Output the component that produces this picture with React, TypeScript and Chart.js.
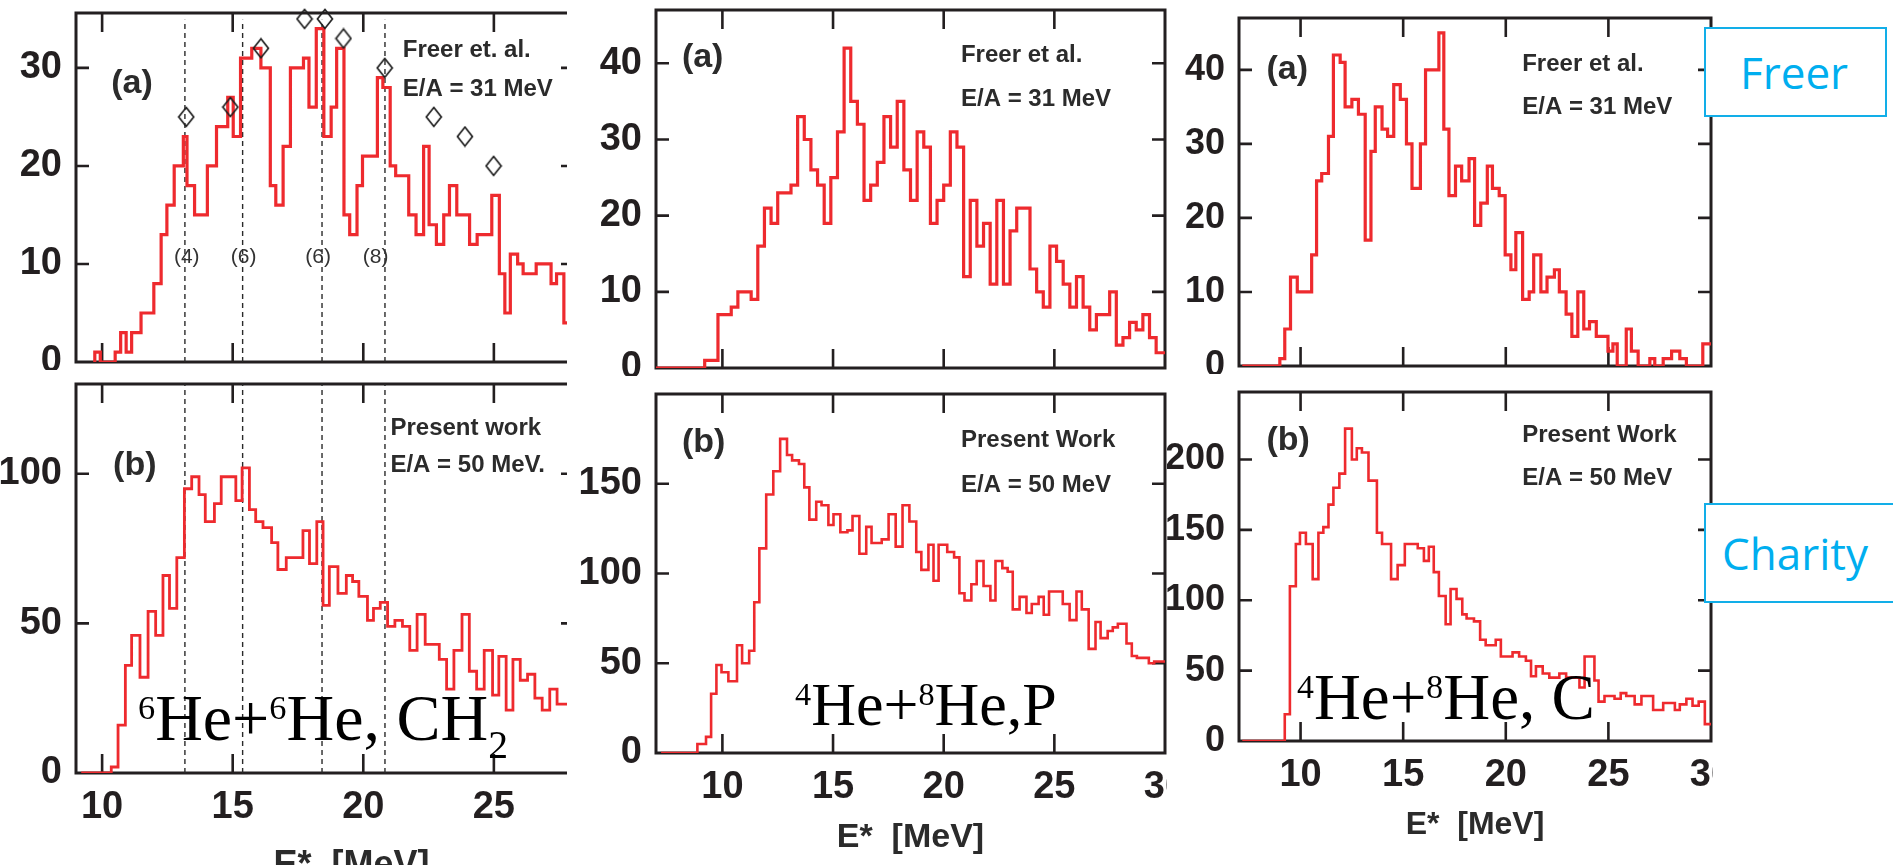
import React, { useEffect, useRef } from 'react';
import { Chart, registerables } from 'chart.js';

Chart.register(...registerables);

const RED = '#ee2a2e';
const INK = '#231f20';
const SANS = '"Liberation Sans", Arial, Helvetica, sans-serif';
const SERIF = '"Liberation Serif", "Times New Roman", serif';

// ---------- 6He+6He, CH2 : Freer et al. (E/A = 31 MeV) ----------
const LT_EDGES = [9.72, 9.93, 10.5, 10.71, 10.92, 11.13, 11.49, 11.98, 12.26, 12.48, 12.76, 13.11, 13.25, 13.54, 14.03, 14.38, 14.81, 15.02, 15.3, 15.73, 16.08, 16.44, 16.65, 16.93, 17.21, 17.71, 17.92, 18.2, 18.49, 18.77, 18.98, 19.26, 19.48, 19.76, 19.97, 20.54, 20.75, 21.03, 21.24, 21.74, 22.02, 22.31, 22.52, 22.8, 23.08, 23.3, 23.58, 24.07, 24.36, 24.92, 25.21, 25.42, 25.63, 25.91, 26.12, 26.62, 27.19, 27.4, 27.68, 27.9];
const LT_COUNTS = [1, 0, 1, 3, 1, 3, 5, 8, 13, 16, 20, 23, 18, 15, 20, 24, 27, 23, 31, 32, 30, 18, 16, 22, 30, 31, 26, 34, 23, 26, 32, 15, 13, 18, 21, 29, 28, 20, 19, 15, 13, 22, 14, 12, 15, 18, 15, 12, 13, 17, 9, 5, 11, 10, 9, 10, 8, 9, 4];
const LT_DIAMOND_E = [13.22, 14.91, 16.08, 17.75, 18.53, 19.24, 20.82, 22.7, 23.89, 24.99];
const LT_DIAMOND_N = [25, 26, 32, 35, 35, 33, 30, 25, 23, 20];
const LEVEL_LINES = [13.17, 15.38, 18.42, 20.83];
const LEVEL_TAGS = ['(4)', '(6)', '(6)', '(8)'];
const LEVEL_TAG_E = [13.24, 15.42, 18.27, 20.47];

// ---------- 6He+6He, CH2 : present work (E/A = 50 MeV) ----------
const LB_EDGES = [9.2, 10.35, 10.61, 10.89, 11.13, 11.45, 11.76, 12.05, 12.33, 12.58, 12.86, 13.15, 13.43, 13.71, 13.95, 14.3, 14.56, 15.12, 15.36, 15.64, 15.88, 16.16, 16.49, 16.73, 17.05, 17.69, 17.94, 18.22, 18.46, 18.7, 19.03, 19.35, 19.59, 19.83, 20.16, 20.39, 20.65, 20.93, 21.21, 21.5, 21.78, 22.06, 22.37, 22.91, 23.19, 23.47, 23.78, 24.06, 24.34, 24.63, 24.95, 25.19, 25.47, 25.73, 26.01, 26.29, 26.57, 26.85, 27.14, 27.42, 27.9];
const LB_COUNTS = [0, 2, 16, 36, 46, 32, 54, 46, 66, 55, 72, 95, 99, 93, 84, 90, 99, 91, 102, 88, 84, 82, 77, 68, 72, 81, 70, 84, 56, 69, 60, 66, 64, 59, 51, 55, 57, 49, 51, 49, 41, 53, 43, 38, 28, 41, 53, 34, 28, 41, 26, 39, 21, 38, 31, 33, 25, 21, 28, 23];

// ---------- 4He+8He, P : Freer et al. (uniform 0.3 MeV bins) ----------
const MT_ZERO_FROM = 7;
const MT_FIRST_EDGE = 9.2;
const MT_BIN_WIDTH = 0.3;
const MT_COUNTS = [1, 1, 7, 7, 8, 10, 10, 9, 16, 21, 19, 23, 23, 24, 33, 30, 26, 24, 19, 25, 31, 42, 35, 32, 22, 24, 27, 33, 29, 35, 26, 22, 31, 29, 19, 22, 24, 31, 29, 12, 22, 16, 19, 11, 22, 11, 18, 21, 21, 13, 10, 8, 16, 14, 11, 8, 12, 8, 5, 7, 7, 10, 3, 4, 6, 5, 7, 4, 2, 2];

// ---------- 4He+8He, P : present work ----------
const MB_EDGES = [7.23, 8.87, 9.26, 9.49, 9.73, 9.96, 10.27, 10.66, 10.89, 11.21, 11.44, 11.67, 11.98, 12.3, 12.61, 12.92, 13.15, 13.46, 13.7, 13.93, 14.24, 14.48, 14.79, 15.02, 15.33, 15.65, 15.88, 16.19, 16.5, 16.74, 17.2, 17.51, 17.83, 18.14, 18.45, 18.76, 18.99, 19.31, 19.54, 19.77, 20.16, 20.47, 20.71, 20.94, 21.25, 21.49, 21.8, 22.11, 22.34, 22.65, 22.89, 23.12, 23.43, 23.74, 23.98, 24.29, 24.52, 24.76, 25.38, 25.69, 26.0, 26.24, 26.55, 26.86, 27.09, 27.41, 27.64, 27.87, 28.26, 28.5, 28.73, 29.27, 29.51, 30.0];
const MB_COUNTS = [0, 5, 9, 33, 49, 45, 40, 60, 50, 57, 84, 114, 144, 157, 175, 166, 163, 161, 148, 130, 140, 138, 127, 133, 123, 124, 132, 111, 126, 117, 119, 133, 115, 138, 129, 112, 102, 116, 96, 116, 112, 109, 89, 85, 94, 107, 93, 85, 107, 103, 101, 80, 87, 78, 83, 87, 77, 90, 83, 74, 90, 80, 58, 73, 64, 68, 70, 72, 61, 54, 53, 50, 51];

// ---------- 4He+8He, C : Freer et al. ----------
const RT_EDGES = [7.16, 8.99, 9.23, 9.51, 9.84, 10.54, 10.78, 11.03, 11.36, 11.6, 11.93, 12.17, 12.5, 12.82, 13.15, 13.43, 13.64, 13.97, 14.24, 14.54, 14.86, 15.16, 15.43, 15.84, 16.09, 16.74, 16.98, 17.23, 17.55, 17.85, 18.21, 18.48, 18.78, 19.1, 19.35, 19.68, 19.97, 20.25, 20.49, 20.82, 21.14, 21.36, 21.71, 22.01, 22.37, 22.61, 22.94, 23.22, 23.51, 23.8, 24.08, 24.41, 24.98, 25.22, 25.43, 25.87, 26.12, 26.45, 27.02, 27.26, 27.67, 28.08, 28.48, 28.8, 29.6, 30.0];
const RT_COUNTS = [0, 1, 5, 12, 10, 15, 25, 26, 31, 42, 41, 35, 36, 34, 17, 29, 35, 32, 31, 38, 36, 30, 24, 30, 40, 45, 32, 23, 27, 25, 28, 19, 22, 27, 24, 23, 15, 13, 18, 9, 10, 15, 10, 12, 13, 10, 7, 4, 10, 5, 6, 4, 2, 3, 0, 5, 2, 0, 1, 0, 1, 2, 1, 0, 3];

// ---------- 4He+8He, C : present work ----------
const RB_EDGES = [7.16, 9.23, 9.48, 9.77, 9.97, 10.26, 10.59, 10.87, 11.11, 11.36, 11.6, 11.89, 12.17, 12.5, 12.74, 12.99, 13.31, 13.72, 13.97, 14.41, 14.73, 15.08, 15.71, 16.01, 16.25, 16.49, 16.74, 17.07, 17.31, 17.6, 17.88, 18.09, 18.45, 18.75, 19.02, 19.51, 19.76, 20.33, 20.65, 20.98, 21.23, 21.47, 21.8, 22.12, 22.61, 22.94, 23.59, 23.84, 24.32, 24.52, 24.81, 25.3, 25.6, 25.87, 26.28, 26.61, 27.18, 27.67, 28.24, 28.48, 28.8, 29.1, 29.4, 29.7, 30.0];
const RB_COUNTS = [0, 19, 110, 140, 148, 140, 115, 148, 152, 168, 180, 190, 222, 200, 208, 205, 185, 148, 140, 115, 125, 140, 137, 128, 138, 120, 103, 83, 108, 101, 90, 87, 85, 72, 68, 72, 60, 63, 60, 57, 46, 53, 48, 45, 48, 45, 38, 60, 43, 28, 32, 30, 34, 32, 26, 32, 22, 27, 22, 26, 30, 25, 28, 12];

// ---------- axis ticks ----------
const LEFT_X_TICKS = [10, 15, 20, 25];
const WIDE_X_TICKS = [10, 15, 20, 25, 30];
const LT_Y_TICKS = [0, 10, 20, 30];
const LB_Y_TICKS = [0, 50, 100];
const TOP_Y_TICKS = [0, 10, 20, 30, 40];
const MB_Y_TICKS = [0, 50, 100, 150];
const RB_Y_TICKS = [0, 50, 100, 150, 200];

const MT_EDGES = [MT_ZERO_FROM, ...MT_COUNTS.map((_, i) => +(MT_FIRST_EDGE + i * MT_BIN_WIDTH).toFixed(2)), 30];
const MT_ALL_COUNTS = [0, ...MT_COUNTS];

type Note = { text: string; x: number; y: number; size: number; bold?: boolean; align?: CanvasTextAlign };

type PanelSpec = {
  left: number; top: number; width: number; height: number;
  padTop: number; padRight: number; yAxisWidth: number; xAxisHeight: number;
  xMin: number; xMax: number; yMin: number; yMax: number;
  xTicks: number[]; xLabels: boolean; yTicks: number[]; yFont: number;
  edges: number[]; counts: number[]; lineWidth: number;
  rightBorder: boolean;
  title?: { text: string; size: number; padBottom: number };
  notes: Note[];
  dashed?: { xs: number[]; top: number };
  diamonds?: { x: number[]; y: number[] };
};

// One point per bin (its lower edge and count) plus the closing edge; drawn with step-before
// interpolation so each count holds from its own edge to the next one.
function histogramPoints(edges: number[], counts: number[]) {
  const pts = [{ x: edges[0], y: 0 }];
  counts.forEach((c, i) => pts.push({ x: edges[i], y: c }));
  pts.push({ x: edges[edges.length - 1], y: counts[counts.length - 1] });
  return pts;
}

function diamondMarker(): HTMLCanvasElement {
  const c = document.createElement('canvas');
  c.width = 18;
  c.height = 22;
  const g = c.getContext('2d')!;
  g.strokeStyle = '#1e1e1e';
  g.lineWidth = 1.7;
  g.beginPath();
  g.moveTo(9, 1.5);
  g.lineTo(16.5, 11);
  g.lineTo(9, 20.5);
  g.lineTo(1.5, 11);
  g.closePath();
  g.stroke();
  return c;
}

function buildConfig(spec: PanelSpec): any {
  const datasets: any[] = [
    {
      label: 'counts',
      data: histogramPoints(spec.edges, spec.counts),
      stepped: 'before',
      borderColor: RED,
      borderWidth: spec.lineWidth,
      pointRadius: 0,
      fill: false,
      order: 2,
    },
  ];
  if (spec.dashed) {
    const d = spec.dashed;
    d.xs.forEach((x) =>
      datasets.push({
        label: 'level',
        data: [{ x, y: 0 }, { x, y: d.top }],
        borderColor: '#2a2a2a',
        borderWidth: 1.4,
        borderDash: [5, 4],
        pointRadius: 0,
        fill: false,
        order: 3,
      })
    );
  }
  if (spec.diamonds) {
    const dm = spec.diamonds;
    datasets.push({
      label: 'freer',
      data: dm.x.map((x, i) => ({ x, y: dm.y[i] })),
      showLine: false,
      pointStyle: diamondMarker(),
      pointRadius: 10,
      clip: false,
      order: 1,
    });
  }

  const frame = {
    id: 'frame',
    beforeDatasetsDraw(chart: any) {
      const { ctx, chartArea: a } = chart;
      const xs = chart.scales.x;
      const ys = chart.scales.y;
      const rEdge = spec.rightBorder ? a.right : a.right + 7;
      ctx.save();
      ctx.strokeStyle = INK;
      ctx.lineWidth = 3;
      ctx.lineCap = 'square';
      ctx.beginPath();
      ctx.moveTo(rEdge + (spec.rightBorder ? 0 : 10), a.top);
      ctx.lineTo(a.left, a.top);
      ctx.lineTo(a.left, a.bottom);
      ctx.lineTo(rEdge + (spec.rightBorder ? 0 : 10), a.bottom);
      if (spec.rightBorder) ctx.lineTo(rEdge, a.top);
      ctx.stroke();
      ctx.lineWidth = 2.6;
      ctx.lineCap = 'butt';
      ctx.beginPath();
      for (const v of spec.xTicks) {
        if (v <= spec.xMin || v >= spec.xMax) continue;
        const px = xs.getPixelForValue(v);
        ctx.moveTo(px, a.bottom);
        ctx.lineTo(px, a.bottom - 19);
        ctx.moveTo(px, a.top);
        ctx.lineTo(px, a.top + 19);
      }
      for (const v of spec.yTicks) {
        if (v <= spec.yMin || v >= spec.yMax) continue;
        const py = ys.getPixelForValue(v);
        ctx.moveTo(a.left, py);
        ctx.lineTo(a.left + 13, py);
        ctx.moveTo(rEdge, py);
        ctx.lineTo(rEdge - 13, py);
      }
      ctx.stroke();
      ctx.restore();
    },
  };

  const notes = {
    id: 'notes',
    afterDatasetsDraw(chart: any) {
      const { ctx } = chart;
      const xs = chart.scales.x;
      const ys = chart.scales.y;
      ctx.save();
      ctx.textBaseline = 'middle';
      for (const n of spec.notes) {
        ctx.font = `${n.bold ? 'bold ' : ''}${n.size}px ${SANS}`;
        ctx.fillStyle = n.bold ? '#2b2b2b' : '#333333';
        ctx.textAlign = n.align || 'left';
        ctx.fillText(n.text, xs.getPixelForValue(n.x), ys.getPixelForValue(n.y));
      }
      ctx.restore();
    },
  };

  return {
    type: 'line',
    data: { datasets },
    options: {
      animation: false,
      responsive: false,
      devicePixelRatio: 1,
      events: [],
      layout: { autoPadding: false, padding: { top: spec.padTop, right: spec.padRight, left: 0, bottom: 0 } },
      plugins: { legend: { display: false }, tooltip: { enabled: false }, title: { display: false } },
      scales: {
        x: {
          type: 'linear',
          position: 'bottom',
          min: spec.xMin,
          max: spec.xMax,
          grid: { display: false, drawTicks: false },
          border: { display: false },
          ticks: {
            display: spec.xLabels,
            padding: 12,
            autoSkip: false,
            maxRotation: 0,
            minRotation: 0,
            color: INK,
            font: { family: SANS, size: 38, weight: 'bold' },
            callback: (v: number) => String(v),
          },
          afterBuildTicks: (s: any) => {
            s.ticks = spec.xTicks.map((v) => ({ value: v }));
          },
          afterFit: (s: any) => {
            s.height = spec.xAxisHeight;
            s.paddingLeft = 0;
            s.paddingRight = 0;
          },
          title: spec.title
            ? {
                display: true,
                text: spec.title.text,
                color: '#2b2b2b',
                font: { family: SANS, size: spec.title.size, weight: 'bold' },
                padding: { top: 0, bottom: spec.title.padBottom },
              }
            : { display: false },
        },
        y: {
          type: 'linear',
          position: 'left',
          min: spec.yMin,
          max: spec.yMax,
          grid: { display: false, drawTicks: false },
          border: { display: false },
          ticks: {
            padding: 14,
            autoSkip: false,
            color: INK,
            font: { family: SANS, size: spec.yFont, weight: 'bold' },
            callback: (v: number) => String(v),
          },
          afterBuildTicks: (s: any) => {
            s.ticks = spec.yTicks.map((v) => ({ value: v }));
          },
          afterFit: (s: any) => {
            s.width = spec.yAxisWidth;
            s.paddingTop = 0;
            s.paddingBottom = 0;
          },
        },
      },
    },
    plugins: [frame, notes],
  };
}

const PANELS: PanelSpec[] = [
  {
    left: 0, top: 0, width: 567, height: 370, padTop: 13, padRight: 0, yAxisWidth: 76, xAxisHeight: 8,
    xMin: 9, xMax: 27.8, yMin: 0, yMax: 35.6, xTicks: LEFT_X_TICKS, xLabels: false, yTicks: LT_Y_TICKS, yFont: 38,
    edges: LT_EDGES, counts: LT_COUNTS, lineWidth: 3.2, rightBorder: false,
    dashed: { xs: LEVEL_LINES, top: 34.9 },
    diamonds: { x: LT_DIAMOND_E, y: LT_DIAMOND_N },
    notes: [
      { text: '(a)', x: 10.35, y: 28.4, size: 34, bold: true },
      { text: 'Freer et. al.', x: 21.51, y: 31.8, size: 24, bold: true },
      { text: 'E/A = 31 MeV', x: 21.51, y: 27.8, size: 24, bold: true },
      ...LEVEL_TAGS.map((t, i) => ({ text: t, x: LEVEL_TAG_E[i], y: 10.7, size: 21, align: 'center' as CanvasTextAlign })),
    ],
  },
  {
    left: 0, top: 374, width: 567, height: 526, padTop: 10, padRight: 0, yAxisWidth: 76, xAxisHeight: 127,
    xMin: 9, xMax: 27.8, yMin: 0, yMax: 130, xTicks: LEFT_X_TICKS, xLabels: true, yTicks: LB_Y_TICKS, yFont: 38,
    edges: LB_EDGES, counts: LB_COUNTS, lineWidth: 2.8, rightBorder: false,
    title: { text: '      E*  [MeV]', size: 36, padBottom: 12 },
    dashed: { xs: LEVEL_LINES, top: 130 },
    notes: [
      { text: '(b)', x: 10.42, y: 102.7, size: 34, bold: true },
      { text: 'Present work', x: 21.04, y: 115.3, size: 24, bold: true },
      { text: 'E/A = 50 MeV.', x: 21.04, y: 102.7, size: 24, bold: true },
    ],
  },
  {
    left: 576, top: 0, width: 591, height: 376, padTop: 10, padRight: 2, yAxisWidth: 80, xAxisHeight: 8,
    xMin: 7, xMax: 30, yMin: 0, yMax: 47, xTicks: WIDE_X_TICKS, xLabels: false, yTicks: TOP_Y_TICKS, yFont: 38,
    edges: MT_EDGES, counts: MT_ALL_COUNTS, lineWidth: 3.2, rightBorder: true,
    notes: [
      { text: '(a)', x: 8.17, y: 40.7, size: 34, bold: true },
      { text: 'Freer et al.', x: 20.78, y: 41.1, size: 24, bold: true },
      { text: 'E/A = 31 MeV', x: 20.78, y: 35.3, size: 24, bold: true },
    ],
  },
  {
    left: 576, top: 384, width: 591, height: 481, padTop: 10, padRight: 2, yAxisWidth: 80, xAxisHeight: 112,
    xMin: 7, xMax: 30, yMin: 0, yMax: 200, xTicks: WIDE_X_TICKS, xLabels: true, yTicks: MB_Y_TICKS, yFont: 38,
    edges: MB_EDGES, counts: MB_COUNTS, lineWidth: 2.6, rightBorder: true,
    title: { text: 'E*  [MeV]', size: 34, padBottom: 7 },
    notes: [
      { text: '(b)', x: 8.17, y: 173, size: 34, bold: true },
      { text: 'Present Work', x: 20.78, y: 174.4, size: 24, bold: true },
      { text: 'E/A = 50 MeV', x: 20.78, y: 149.3, size: 24, bold: true },
    ],
  },
  {
    left: 1167, top: 0, width: 546, height: 374, padTop: 18, padRight: 2, yAxisWidth: 72, xAxisHeight: 8,
    xMin: 7, xMax: 30, yMin: 0, yMax: 47, xTicks: WIDE_X_TICKS, xLabels: false, yTicks: TOP_Y_TICKS, yFont: 36,
    edges: RT_EDGES, counts: RT_COUNTS, lineWidth: 3.2, rightBorder: true,
    notes: [
      { text: '(a)', x: 8.34, y: 40, size: 34, bold: true },
      { text: 'Freer et al.', x: 20.8, y: 40.7, size: 24, bold: true },
      { text: 'E/A = 31 MeV', x: 20.8, y: 34.9, size: 24, bold: true },
    ],
  },
  {
    left: 1167, top: 382, width: 546, height: 483, padTop: 10, padRight: 2, yAxisWidth: 72, xAxisHeight: 124,
    xMin: 7, xMax: 30, yMin: 0, yMax: 248, xTicks: WIDE_X_TICKS, xLabels: true, yTicks: RB_Y_TICKS, yFont: 36,
    edges: RB_EDGES, counts: RB_COUNTS, lineWidth: 2.6, rightBorder: true,
    title: { text: 'E*  [MeV]', size: 32, padBottom: 21 },
    notes: [
      { text: '(b)', x: 8.34, y: 213.8, size: 34, bold: true },
      { text: 'Present Work', x: 20.8, y: 217.3, size: 24, bold: true },
      { text: 'E/A = 50 MeV', x: 20.8, y: 186.8, size: 24, bold: true },
    ],
  },
];

function Panel({ spec }: { spec: PanelSpec }) {
  const ref = useRef<HTMLCanvasElement>(null);
  useEffect(() => {
    if (!ref.current) return;
    const chart = new Chart(ref.current, buildConfig(spec));
    return () => chart.destroy();
  }, [spec]);
  return (
    <canvas
      ref={ref}
      width={spec.width}
      height={spec.height}
      style={{ position: 'absolute', left: spec.left, top: spec.top, width: spec.width, height: spec.height, background: '#fff' }}
    />
  );
}

const Sup = ({ children }: { children: React.ReactNode }) => (
  <span style={{ fontSize: '0.52em', position: 'relative', top: '-0.62em' }}>{children}</span>
);
const Sub = ({ children }: { children: React.ReactNode }) => (
  <span style={{ fontSize: '0.6em', position: 'relative', top: '0.45em' }}>{children}</span>
);

function Reaction({ left, baseline, size, children }: { left: number; baseline: number; size: number; children: React.ReactNode }) {
  return (
    <div
      style={{
        position: 'absolute', left, top: baseline - Math.round(size * 0.84), fontFamily: SERIF, fontSize: size,
        lineHeight: `${size}px`, whiteSpace: 'nowrap', color: '#000',
      }}
    >
      {children}
    </div>
  );
}

function Tag({ left, top, width, height, text, pad }: { left: number; top: number; width: number; height: number; text: string; pad: number }) {
  return (
    <div
      style={{
        position: 'absolute', left, top, width, height, boxSizing: 'border-box', border: '2px solid #12aee8',
        background: '#fff', color: '#00aeef', fontFamily: '"Open Sans", "Noto Sans", sans-serif', fontSize: 44,
        lineHeight: `${height - 4}px`, paddingLeft: pad, whiteSpace: 'nowrap',
      }}
    >
      {text}
    </div>
  );
}

export default function App() {
  return (
    <div style={{ position: 'fixed', left: 0, top: 0, width: 1893, height: 865, overflow: 'hidden', background: '#fff' }}>
      {PANELS.map((p, i) => (
        <Panel key={i} spec={p} />
      ))}
      <Reaction left={138} baseline={740} size={66}>
        <Sup>6</Sup>He+<Sup>6</Sup>He, CH<Sub>2</Sub>
      </Reaction>
      <Reaction left={795} baseline={725} size={62}>
        <Sup>4</Sup>He+<Sup>8</Sup>He,P
      </Reaction>
      <Reaction left={1297} baseline={720} size={65}>
        <Sup>4</Sup>He+<Sup>8</Sup>He, C
      </Reaction>
      <Tag left={1704} top={27} width={183} height={90} text="Freer" pad={34} />
      <Tag left={1704} top={503} width={210} height={100} text="Charity" pad={16} />
    </div>
  );
}
